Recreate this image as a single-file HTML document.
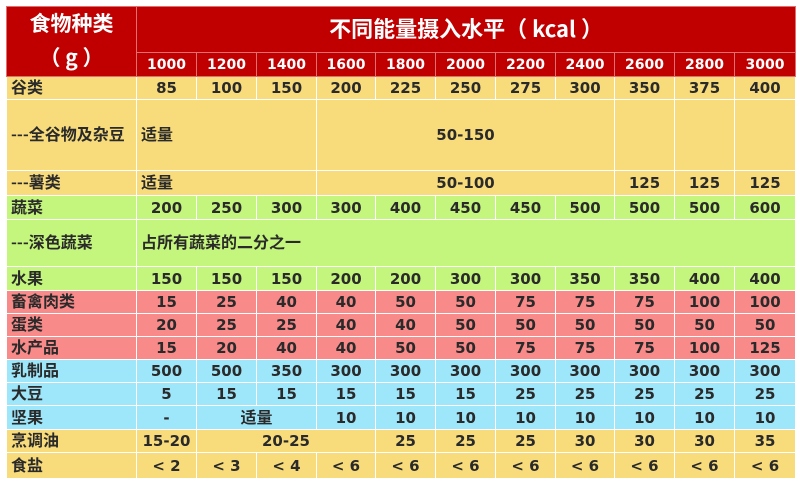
<!DOCTYPE html>
<html><head><meta charset="utf-8"><style>
html,body{margin:0;padding:0;background:#fff;width:800px;height:485px;overflow:hidden}
table{position:absolute;left:6px;top:6px;border-collapse:collapse;table-layout:fixed;width:789px;
font-family:"DejaVu Sans","Noto Sans CJK SC",sans-serif;font-weight:bold;font-size:15px;color:#2a2a2a}
td{border:1px solid #fff;padding:0;text-align:center;overflow:hidden;white-space:nowrap;vertical-align:middle;line-height:16px}
td.l{text-align:left;padding-left:4px}
.c{font-family:"Noto Sans CJK SC",sans-serif;font-size:16px;line-height:16px}
.c span{position:relative;top:-2px}
.h td{background:#c00000;color:#fff;border-color:#e07070;font-size:14px}
.y td{background:#f8dc7c}.g td{background:#c4f57c}.p td{background:#f88a8a}.b td{background:#9ee6fa}
</style></head><body>
<table>
<colgroup><col style="width:130px"><col style="width:60px"><col style="width:60px"><col style="width:60px"><col style="width:59px"><col style="width:60px"><col style="width:60px"><col style="width:60px"><col style="width:59px"><col style="width:60px"><col style="width:60px"><col style="width:61px"></colgroup>
<tr class="h" style="height:46px"><td rowspan="2" class="c" style="font-size:21px;line-height:34px"><span>食物种类<br>（ g ）</span></td><td colspan="11" class="c" style="font-size:22px;line-height:24px"><span>不同能量摄入水平（ kcal ）</span></td></tr>
<tr class="h" style="height:24px"><td>1000</td><td>1200</td><td>1400</td><td>1600</td><td>1800</td><td>2000</td><td>2200</td><td>2400</td><td>2600</td><td>2800</td><td>3000</td></tr>
<tr class="y" style="height:23px"><td class="l c"><span>谷类</span></td><td>85</td><td>100</td><td>150</td><td>200</td><td>225</td><td>250</td><td>275</td><td>300</td><td>350</td><td>375</td><td>400</td></tr>
<tr class="y" style="height:71px"><td class="l c"><span>---全谷物及杂豆</span></td><td colspan="3" class="l c"><span>适量</span></td><td colspan="5">50-150</td><td></td><td></td><td></td></tr>
<tr class="y" style="height:25px"><td class="l c"><span>---薯类</span></td><td colspan="3" class="l c"><span>适量</span></td><td colspan="5">50-100</td><td>125</td><td>125</td><td>125</td></tr>
<tr class="g" style="height:24px"><td class="l c"><span>蔬菜</span></td><td>200</td><td>250</td><td>300</td><td>300</td><td>400</td><td>450</td><td>450</td><td>500</td><td>500</td><td>500</td><td>600</td></tr>
<tr class="g" style="height:47px"><td class="l c"><span>---深色蔬菜</span></td><td colspan="11" class="l c"><span>占所有蔬菜的二分之一</span></td></tr>
<tr class="g" style="height:24px"><td class="l c"><span>水果</span></td><td>150</td><td>150</td><td>150</td><td>200</td><td>200</td><td>300</td><td>300</td><td>350</td><td>350</td><td>400</td><td>400</td></tr>
<tr class="p" style="height:23px"><td class="l c"><span>畜禽肉类</span></td><td>15</td><td>25</td><td>40</td><td>40</td><td>50</td><td>50</td><td>75</td><td>75</td><td>75</td><td>100</td><td>100</td></tr>
<tr class="p" style="height:23px"><td class="l c"><span>蛋类</span></td><td>20</td><td>25</td><td>25</td><td>40</td><td>40</td><td>50</td><td>50</td><td>50</td><td>50</td><td>50</td><td>50</td></tr>
<tr class="p" style="height:23px"><td class="l c"><span>水产品</span></td><td>15</td><td>20</td><td>40</td><td>40</td><td>50</td><td>50</td><td>75</td><td>75</td><td>75</td><td>100</td><td>125</td></tr>
<tr class="b" style="height:23px"><td class="l c"><span>乳制品</span></td><td>500</td><td>500</td><td>350</td><td>300</td><td>300</td><td>300</td><td>300</td><td>300</td><td>300</td><td>300</td><td>300</td></tr>
<tr class="b" style="height:23px"><td class="l c"><span>大豆</span></td><td>5</td><td>15</td><td>15</td><td>15</td><td>15</td><td>15</td><td>25</td><td>25</td><td>25</td><td>25</td><td>25</td></tr>
<tr class="b" style="height:24px"><td class="l c"><span>坚果</span></td><td>-</td><td colspan="2" class="c"><span>适量</span></td><td>10</td><td>10</td><td>10</td><td>10</td><td>10</td><td>10</td><td>10</td><td>10</td></tr>
<tr class="y" style="height:23px"><td class="l c"><span>烹调油</span></td><td>15-20</td><td colspan="3">20-25</td><td>25</td><td>25</td><td>25</td><td>30</td><td>30</td><td>30</td><td>35</td></tr>
<tr class="y" style="height:26px"><td class="l c"><span>食盐</span></td><td>&lt; 2</td><td>&lt; 3</td><td>&lt; 4</td><td>&lt; 6</td><td>&lt; 6</td><td>&lt; 6</td><td>&lt; 6</td><td>&lt; 6</td><td>&lt; 6</td><td>&lt; 6</td><td>&lt; 6</td></tr>
</table>
</body></html>
